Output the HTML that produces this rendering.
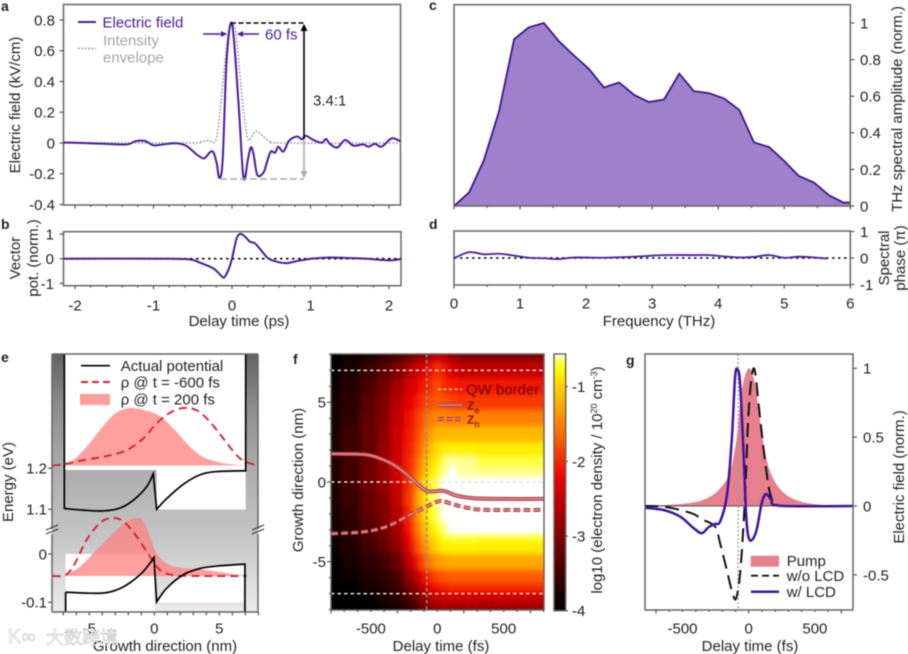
<!DOCTYPE html>
<html lang="en">
<head>
<meta charset="utf-8">
<title>THz pulse and quantum well electron density figure</title>
<style>
html,body{margin:0;padding:0;background:#fff;width:908px;height:654px;overflow:hidden}
svg{display:block;filter:blur(0.45px)}
text{font-family:"Liberation Sans","Noto Sans CJK SC",sans-serif;font-size:15px;fill:#222}
.pl{font-weight:700;font-size:14px}
.fr{fill:none;stroke:#666;stroke-width:1.5}
</style>
</head>
<body>
<svg id="fig" xmlns="http://www.w3.org/2000/svg" width="908" height="654" viewBox="0 0 908 654">
<defs>
<clipPath id="clipF"><rect x="331" y="354" width="213" height="256"/></clipPath>
<clipPath id="clipE"><rect x="52" y="354" width="206" height="258"/></clipPath>
<clipPath id="clipG"><rect x="645" y="354" width="208" height="256"/></clipPath>
<filter id="soft" x="-10%" y="-10%" width="120%" height="120%"><feGaussianBlur stdDeviation="2.6"/></filter>
<linearGradient id="eGrad" x1="0" y1="0" x2="0" y2="1">
<stop offset="0" stop-color="#626262"/><stop offset="0.2" stop-color="#8c8c8c"/><stop offset="0.45" stop-color="#adadad"/><stop offset="0.7" stop-color="#c4c4c4"/><stop offset="1" stop-color="#ececec"/>
</linearGradient>
<marker id="ah-black" markerUnits="userSpaceOnUse" markerWidth="8" markerHeight="7" refX="6" refY="3.5" orient="auto"><path d="M0,0 L7,3.5 L0,7 z" fill="#000"/></marker>
<marker id="ah-gray" markerUnits="userSpaceOnUse" markerWidth="8" markerHeight="7" refX="6" refY="3.5" orient="auto"><path d="M0,0 L7,3.5 L0,7 z" fill="#aaa"/></marker>
<marker id="ah-purple" markerUnits="userSpaceOnUse" markerWidth="7" markerHeight="6" refX="5" refY="3" orient="auto"><path d="M0,0 L6,3 L0,6 z" fill="#4b1a9e"/></marker>
</defs>

<text class="pl" x="1" y="11">a</text>
<text class="pl" x="1" y="229">b</text>
<text class="pl" x="429" y="10">c</text>
<text class="pl" x="429" y="229">d</text>
<text class="pl" x="1" y="362">e</text>
<text class="pl" x="293" y="364">f</text>
<text class="pl" x="626" y="365">g</text>

<g id="pa"></g>
<g id="pb"></g>
<g id="pc"></g>
<g id="pd"></g>
<g id="pe"></g>
<g id="pf"></g>
<g id="pg"></g>

<text transform="translate(20,105) rotate(-90)" text-anchor="middle">Electric field (kV/cm)</text>
<text transform="translate(20,258) rotate(-90)" text-anchor="middle">Vector</text>
<text transform="translate(38,258) rotate(-90)" text-anchor="middle">pot. (norm.)</text>
<text x="239" y="326" text-anchor="middle">Delay time (ps)</text>
<text transform="translate(902,109) rotate(-90)" text-anchor="middle">THz spectral amplitude (norm.)</text>
<text transform="translate(889,258) rotate(-90)" text-anchor="middle">Spectral</text>
<text transform="translate(905,258) rotate(-90)" text-anchor="middle">phase (π)</text>
<text x="659" y="326" text-anchor="middle">Frequency (THz)</text>
<text transform="translate(13,482) rotate(-90)" text-anchor="middle">Energy (eV)</text>
<text x="165" y="651" text-anchor="middle">Growth direction (nm)</text>
<text transform="translate(303,480) rotate(-90)" text-anchor="middle">Growth direction (nm)</text>
<text x="441" y="651" text-anchor="middle">Delay time (fs)</text>
<text transform="translate(602,480) rotate(-90)" text-anchor="middle">log10 (electron density / 10<tspan font-size="9" dy="-5">20</tspan><tspan dy="5"> cm</tspan><tspan font-size="9" dy="-5">-3</tspan><tspan dy="5">)</tspan></text>
<text x="750" y="651" text-anchor="middle">Delay time (fs)</text>
<text transform="translate(904,477) rotate(-90)" text-anchor="middle">Electric field (norm.)</text>

<g id="watermark">
<text x="8" y="643" style="font-size:20px;fill:#fff;stroke:#bbb;stroke-width:.5">K∞</text>
<text x="46" y="644" style="font-size:18px;fill:#fff;stroke:#aaa;stroke-width:.4">大数跨境</text>
</g>
</svg>

<script>
// ---- panel a ----
const fieldTimes=[-2.15,-2,-1.68,-1.34,-1.235,-1.108,-1,-0.875,-0.705,-0.577,-0.45,-0.357,-0.28,-0.238,-0.195,-0.161,-0.119,-0.068,0,0.08,0.136,0.166,0.195,0.238,0.272,0.323,0.4,0.442,0.493,0.548,0.59,0.654,0.718,0.78,0.845,0.887,0.943,1.036,1.142,1.197,1.248,1.342,1.44,1.546,1.673,1.737,1.822,1.907,2.034,2.149];
const fieldValues=[0.002,0.002,-0.004,-0.009,0.011,0.013,-0.015,-0.009,-0.002,-0.02,-0.074,-0.1,-0.06,-0.06,-0.13,-0.226,-0.11,0.54,0.775,0.28,-0.176,-0.23,-0.13,-0.03,-0.067,-0.208,-0.193,-0.13,-0.056,-0.063,-0.024,-0.056,0.009,0.035,0.041,0.024,0.046,0.02,0.002,0.026,-0.006,-0.03,0.02,-0.017,-0.009,-0.024,-0.006,-0.024,0.03,0.009];
const envelopeTimes=[-2.15,-0.577,-0.408,-0.302,-0.217,-0.174,-0.11,-0.047,0,0.051,0.11,0.166,0.208,0.25,0.306,0.378,0.484,0.654,2.149];
const envelopeValues=[0.002,0,0.007,0.017,0.009,0.106,0.43,0.713,0.768,0.713,0.39,0.128,0.02,0.041,0.078,0.052,0.009,0,0];
const fieldYTicks=[-0.4,-0.2,0,0.2,0.4,0.6,0.8];
const fieldYLabels=['-0.4','-0.2','0','0.2','0.4','0.6','0.8'];
// ---- panel b ----
const vectorTimes=[-2.15,-0.83,-0.535,-0.408,-0.238,-0.153,-0.102,-0.047,0,0.059,0.11,0.166,0.229,0.293,0.378,0.463,0.569,0.696,0.866,1.036,1.248,1.46,1.716,2.013,2.16];
const vectorValues=[0,0,-0.03,-0.16,-0.39,-0.64,-0.76,-0.46,0.01,0.82,1,0.89,0.69,0.62,0.31,0.01,-0.12,-0.18,-0.07,0.01,0.05,0.03,0,-0.07,0];
const delayTicks=[-2,-1,0,1,2];
const delayLabels=['-2','-1','0','1','2'];
const vectorYTicks=[-1,0,1];
const vectorYLabels=['-1','0','1'];
// ---- panel c ----
const specFreq=[0,0.23,0.45,0.68,0.91,1.13,1.36,1.59,1.82,2.04,2.27,2.5,2.73,2.95,3.18,3.41,3.63,3.86,4.09,4.32,4.54,4.77,5,5.22,5.45,5.68,5.9,6];
const specAmp=[0,0.075,0.248,0.515,0.911,0.976,1,0.9,0.821,0.75,0.648,0.675,0.606,0.568,0.582,0.723,0.628,0.617,0.587,0.525,0.348,0.322,0.246,0.164,0.128,0.058,0.018,0.02];
const specYTicks=[0,0.2,0.4,0.6,0.8,1];
const specYLabels=['0','0.2','0.4','0.6','0.8','1'];
// ---- panel d ----
const phaseFreq=[0,0.23,0.45,0.68,0.91,1.13,1.36,1.59,1.82,2.27,2.73,3.18,3.63,3.86,4.09,4.32,4.54,4.77,5,5.22,5.45,5.65];
const phaseValues=[-0.01,0.22,0.14,0.16,0.09,0.01,-0.01,-0.04,0.02,0.01,0.05,0.11,0.11,0.11,0.06,0.02,0.04,0.11,0.01,0.05,0.02,-0.02];
const freqTicks=[0,1,2,3,4,5,6];
const freqLabels=['0','1','2','3','4','5','6'];
// ---- panel e ----
const cbZ=[-6.92,-6.92,-5.46,-3.92,-2.64,-1.62,-0.59,-0.08,0.18,0.95,2.23,3.51,4.8,7.03,7.03];
const cbE=[1.479,1.102,1.098,1.096,1.103,1.122,1.155,1.187,1.1,1.126,1.161,1.184,1.192,1.194,1.479];
const vbZ=[-6.82,-6.82,-5.2,-3.67,-2.38,-1.1,-0.33,-0.03,0.18,0.95,2.23,3.51,4.8,6.97,6.97];
const vbE=[-0.119,-0.079,-0.081,-0.08,-0.068,-0.043,-0.019,-0.007,-0.099,-0.071,-0.043,-0.03,-0.025,-0.021,-0.119];
const rhoLateUpperZ=[-6.92,-6.23,-5.2,-4.18,-3.15,-2.38,-1.62,-0.59,0.44,1.46,2.49,3.51,4.54,5.82,7.03];
const rhoLateUpper=[0,0.093,0.326,0.616,0.878,0.977,1,0.953,0.86,0.645,0.384,0.18,0.081,0.023,0];
const rhoEarlyUpperZ=[-7.82,-6.92,-5.46,-3.67,-2.13,-0.85,0.18,1.21,2.23,3.26,4.28,5.31,6.33,7.03,7.95];
const rhoEarlyUpper=[0,0.023,0.093,0.163,0.267,0.47,0.733,0.919,1,0.96,0.76,0.47,0.18,0.064,0];
const rhoLateLowerZ=[-6.82,-5.72,-4.69,-3.41,-2.13,-1.36,-0.85,-0.33,0.18,0.95,1.97,3.51,4.8,7.03];
const rhoLateLower=[0.01,0.162,0.393,0.682,0.942,1,0.942,0.682,0.393,0.22,0.145,0.116,0.075,0];
const rhoEarlyLowerZ=[-7.82,-6.82,-6.1,-5.2,-4.18,-3.28,-2.38,-1.36,-0.33,0.44,1.46,3.51,7.1];
const rhoEarlyLower=[0,0.017,0.22,0.624,0.913,1,0.942,0.682,0.335,0.104,0.017,0,0];
const growthTicks=[-5,0,5];
const growthLabels=['-5','0','5'];
const energyUpperTicks=[1.2,1.1];
const energyUpperLabels=['1.2','1.1'];
const energyLowerTicks=[0,-0.1];
const energyLowerLabels=['0','-0.1'];
// ---- panel f ----
const heatTimes=[-800,-650,-500,-400,-300,-200,-150,-100,-50,0,50,100,200,400,800];
const heatDepths=[8,7,6,5,4,3,2,1.2,0.6,0,-1,-2,-3,-3.5,-4,-5,-6,-6.6,-7,-7.5,-8];
const heatValues=[
[-4,-3.9,-3.8,-3.6,-3.4,-3.1,-2.95,-2.8,-2.65,-2.45,-2.6,-2.8,-2.95,-2.95,-2.95],
[-3.95,-3.8,-3.55,-3.3,-3,-2.65,-2.45,-2.3,-2.15,-1.95,-2.1,-2.35,-2.5,-2.5,-2.5],
[-3.9,-3.7,-3.4,-3.1,-2.75,-2.4,-2.2,-2.05,-1.95,-1.8,-1.95,-2.05,-2.1,-2.1,-2.1],
[-3.85,-3.65,-3.3,-3,-2.6,-2.25,-2.05,-1.9,-1.8,-1.7,-1.75,-1.85,-1.9,-1.9,-1.9],
[-3.85,-3.6,-3.25,-2.95,-2.5,-2.15,-1.9,-1.7,-1.55,-1.45,-1.45,-1.5,-1.5,-1.5,-1.5],
[-3.8,-3.55,-3.2,-2.9,-2.45,-2.1,-1.85,-1.55,-1.3,-1.15,-1.15,-1.15,-1.15,-1.15,-1.15],
[-3.8,-3.5,-3.2,-2.85,-2.45,-2.05,-1.75,-1.4,-1.1,-0.92,-0.85,-0.82,-0.82,-0.85,-0.85],
[-3.75,-3.5,-3.15,-2.85,-2.4,-2,-1.65,-1.25,-0.95,-0.82,-0.65,-0.56,-0.6,-0.68,-0.68],
[-3.75,-3.5,-3.15,-2.85,-2.4,-2,-1.55,-1.15,-0.85,-0.75,-0.6,-0.5,-0.58,-0.6,-0.6],
[-3.75,-3.5,-3.15,-2.85,-2.45,-1.95,-1.45,-1.05,-0.8,-0.65,-0.52,-0.4,-0.4,-0.4,-0.4],
[-3.8,-3.55,-3.2,-2.95,-2.5,-1.9,-1.35,-0.95,-0.7,-0.6,-0.45,-0.4,-0.4,-0.4,-0.4],
[-3.85,-3.6,-3.25,-3,-2.6,-2,-1.4,-1,-0.75,-0.65,-0.5,-0.4,-0.4,-0.4,-0.4],
[-3.85,-3.65,-3.35,-3.1,-2.7,-2.1,-1.55,-1.15,-0.88,-0.72,-0.62,-0.52,-0.45,-0.5,-0.5],
[-3.9,-3.7,-3.45,-3.2,-2.8,-2.2,-1.7,-1.3,-1,-0.85,-0.75,-0.7,-0.7,-0.72,-0.72],
[-3.9,-3.75,-3.5,-3.25,-2.9,-2.3,-1.8,-1.45,-1.15,-0.95,-0.85,-0.82,-0.82,-0.85,-0.85],
[-3.95,-3.85,-3.65,-3.5,-3.2,-2.55,-2.1,-1.75,-1.5,-1.32,-1.3,-1.25,-1.25,-1.25,-1.25],
[-4,-3.9,-3.8,-3.65,-3.4,-2.9,-2.5,-2.15,-1.95,-1.8,-1.75,-1.7,-1.7,-1.7,-1.7],
[-4,-3.95,-3.85,-3.75,-3.55,-3.1,-2.8,-2.45,-2.25,-2.1,-2,-1.95,-1.95,-1.95,-1.95],
[-4,-3.95,-3.9,-3.8,-3.65,-3.3,-3,-2.7,-2.5,-2.35,-2.35,-2.3,-2.3,-2.3,-2.3],
[-4,-4,-3.95,-3.85,-3.75,-3.5,-3.25,-2.95,-2.75,-2.6,-2.6,-2.6,-2.6,-2.6,-2.6],
[-4,-4,-3.95,-3.9,-3.8,-3.65,-3.45,-3.2,-3,-2.9,-2.85,-2.85,-2.85,-2.85,-2.85]
];
const electronTimes=[-801,-558,-432,-306,-181,-80,45,146,271,472,804];
const electronCentroid=[1.77,1.73,1.48,0.96,0.125,-0.56,-0.56,-0.86,-1.02,-1.06,-1.06];
const holeTimes=[-800,-558,-382,-231,-80,20,95,221,372,804];
const holeCentroid=[-3.24,-3.13,-2.8,-2.17,-1.54,-1.19,-1.34,-1.61,-1.75,-1.75];
const qwBorders=[7,0,-7];
const pumpDelayMark=[-80];
const densityTicks=[-1,-2,-3,-4];
const densityLabels=['-1','-2','-3','-4'];
const fYTicks=[5,0,-5];
const fYLabels=['5','0','-5'];
const delayFsTicks=[-500,0,500];
const delayFsLabels=['-500','0','500'];
// ---- panel g ----
const withLcdTimes=[-789,-643,-518,-417,-354,-304,-254,-216,-166,-128,-103,-83,-65,-40,-20,-3,23,60,98,131,173,236,789];
const withLcdValues=[-0.012,-0.029,-0.077,-0.16,-0.198,-0.154,-0.13,-0.113,0.067,0.477,0.935,0.99,0.887,0.405,-0.053,-0.22,-0.248,-0.173,0.019,0.087,0.043,0.002,0];
const noLcdTimes=[-789,-643,-518,-417,-342,-254,-216,-166,-116,-90,-60,-28,-3,23,48,85,136,173,236,789];
const noLcdValues=[0,-0.005,-0.029,-0.058,-0.101,-0.149,-0.27,-0.463,-0.655,-0.655,-0.438,0.067,0.646,0.94,0.975,0.646,0.236,0.055,0.002,0];
const pumpTimes=[-789,-467,-317,-216,-141,-90,-53,0,48,85,136,198,286,412,588,789];
const pumpValues=[0,0.019,0.055,0.128,0.248,0.501,0.839,1,0.887,0.622,0.333,0.176,0.08,0.027,0.005,0];
const gYTicks=[1,0.5,0,-0.5];
const gYLabels=['1','0.5','0','-0.5'];

const NS='http://www.w3.org/2000/svg';
const PURPLE='#4b1a9e';
function lin(d0,r0,d1,r1){return v=>r0+(v-d0)*(r1-r0)/(d1-d0);}
function mk(tag,attrs,parent,name){
  const el=document.createElementNS(NS,tag);
  for(const k in attrs){el.setAttribute(k,attrs[k]);}
  
  
  parent.appendChild(el);
  return el;
}
function label(parent,x,y,str,anchor,name,extra){
  const t=mk('text',Object.assign({x:x,y:y,dy:'.36em','text-anchor':anchor},extra||{}),parent,name);
  t.textContent=str;
  return t;
}
function toPts(xs,ys,fx,fy){return xs.map((v,i)=>[fx(v),fy(ys[i])]);}
function poly(pts){return 'M'+pts.map(p=>p[0].toFixed(2)+','+p[1].toFixed(2)).join(' L');}
function smooth(pts){
  let d='M'+pts[0][0].toFixed(2)+','+pts[0][1].toFixed(2);
  for(let i=0;i<pts.length-1;i++){
    const p0=pts[Math.max(i-1,0)],p1=pts[i],p2=pts[i+1],p3=pts[Math.min(i+2,pts.length-1)];
    const c1=[p1[0]+(p2[0]-p0[0])/6,p1[1]+(p2[1]-p0[1])/6];
    const c2=[p2[0]-(p3[0]-p1[0])/6,p2[1]-(p3[1]-p1[1])/6];
    d+=' C'+c1[0].toFixed(2)+','+c1[1].toFixed(2)+' '+c2[0].toFixed(2)+','+c2[1].toFixed(2)+' '+p2[0].toFixed(2)+','+p2[1].toFixed(2);
  }
  return d;
}
function frame(parent,x,y,w,h,name){return mk('rect',{x:x,y:y,width:w,height:h,class:'fr'},parent,name);}
function line(parent,x1,y1,x2,y2,style,name){
  return mk('line',Object.assign({x1:x1,y1:y1,x2:x2,y2:y2,stroke:'#555','stroke-width':1.2},style||{}),parent,name);
}
function xTicks(parent,fx,yBase,from,to,majorStep,minorStep,prefix){
  const n=Math.round((to-from)/minorStep);
  const every=Math.round(majorStep/minorStep);
  for(let i=0;i<=n;i++){
    const major=i%every===0;
    const px=fx(from+i*minorStep);
    line(parent,px,yBase,px,yBase+(major?3.5:2),null,prefix+(major?'-x-tick-major':'-x-tick-minor'));
  }
}
function yTicksLeft(parent,fy,xBase,vals,labels,xLab,name){
  vals.forEach((v,i)=>{
    line(parent,xBase-4,fy(v),xBase,fy(v),null,name+'-y-tick');
    label(parent,xLab,fy(v),labels[i],'end',name+'-y-tick-label');
  });
}
function yTicksRight(parent,fy,xBase,vals,labels,xLab,name){
  vals.forEach((v,i)=>{
    line(parent,xBase,fy(v),xBase+4,fy(v),null,name+'-y-tick');
    label(parent,xLab,fy(v),labels[i],'start',name+'-y-tick-label');
  });
}

// ===== PANEL A =====
const xA=lin(0,232,1,310.5), yA=lin(0,143,0.8,20);
const pa=document.getElementById('pa');
frame(pa,63.5,4.5,337,200.5,'panel-a-frame');
mk('path',{d:smooth(toPts(envelopeTimes,envelopeValues,xA,yA)),fill:'none',stroke:'#a0a0a0','stroke-width':1.7,'stroke-dasharray':'1.7 1.7'},pa,'intensity-envelope-line');
mk('path',{d:smooth(toPts(fieldTimes,fieldValues,xA,yA)),fill:'none',stroke:PURPLE,'stroke-width':2},pa,'electric-field-line');
xTicks(pa,xA,205,-2,2,1,0.2,'panel-a');
yTicksLeft(pa,yA,63.5,fieldYTicks,fieldYLabels,55,'panel-a');
line(pa,231,23,304,23,{stroke:'#000','stroke-width':1.6,'stroke-dasharray':'5 2.5'},'peak-level-dashed');
line(pa,220,179,304,179,{stroke:'#aaa','stroke-width':1.6,'stroke-dasharray':'7 3'},'trough-level-dashed');
line(pa,304,139,304,25,{stroke:'#000','stroke-width':1.6,'marker-end':'url(#ah-black)'},'positive-peak-arrow');
line(pa,304,139,304,177,{stroke:'#aaa','stroke-width':1.6,'marker-end':'url(#ah-gray)'},'negative-peak-arrow');
line(pa,203,34,226,34,{stroke:PURPLE,'stroke-width':1.5,'marker-end':'url(#ah-purple)'},'fwhm-arrow-left');
line(pa,259,34,238,34,{stroke:PURPLE,'stroke-width':1.5,'marker-end':'url(#ah-purple)'},'fwhm-arrow-right');
label(pa,265,34,'60 fs','start','fwhm-label',{style:'fill:'+PURPLE});
label(pa,313,100,'3.4:1','start','ratio-label');
line(pa,78,22,96,22,{stroke:PURPLE,'stroke-width':2},'legend-electric-field-line');
label(pa,102.5,22,'Electric field','start','legend-electric-field-label',{style:'fill:'+PURPLE});
line(pa,78,48.5,96,48.5,{stroke:'#a0a0a0','stroke-width':1.7,'stroke-dasharray':'1.7 1.7'},'legend-envelope-line');
label(pa,103,40,'Intensity','start','legend-envelope-label-1',{style:'fill:#a5a5a5'});
label(pa,103,57,'envelope','start','legend-envelope-label-2',{style:'fill:#a5a5a5'});

// ===== PANEL B =====
const yB=lin(0,258.7,1,234);
const pb=document.getElementById('pb');
frame(pb,63.5,231.7,337.5,54,'panel-b-frame');
line(pb,64,258.7,401,258.7,{stroke:'#000','stroke-width':1.6,'stroke-dasharray':'2.5 3.5'},'panel-b-zero-line');
mk('path',{d:smooth(toPts(vectorTimes,vectorValues,xA,yB)),fill:'none',stroke:PURPLE,'stroke-width':2},pb,'vector-potential-line');
xTicks(pb,xA,285.7,-2,2,1,0.2,'panel-b');
delayTicks.forEach((v,i)=>{label(pb,xA(v),305,delayLabels[i],'middle','panel-b-x-tick-label');});
yTicksLeft(pb,yB,63.5,vectorYTicks,vectorYLabels,54,'panel-b');

// ===== PANEL C =====
const xC=lin(0,454,6,850.3), yC=lin(0,206,1,23);
const pc=document.getElementById('pc');
const specPts=toPts(specFreq,specAmp,xC,yC);
mk('path',{d:poly(specPts)+' L'+xC(6)+','+yC(0)+' L'+xC(0)+','+yC(0)+' Z',fill:'#9f80ca'},pc,'spectrum-area');
mk('path',{d:poly(specPts),fill:'none',stroke:'#3a1690','stroke-width':1.8},pc,'spectrum-line');
frame(pc,454,4.7,396.3,201.3,'panel-c-frame');
xTicks(pc,xC,206,0,6,1,0.5,'panel-c');
yTicksRight(pc,yC,850.3,specYTicks,specYLabels,860,'panel-c');

// ===== PANEL D =====
const yD=lin(0,258,1,231.5);
const pd=document.getElementById('pd');
frame(pd,454,231,396.3,54,'panel-d-frame');
line(pd,454,258,850,258,{stroke:'#000','stroke-width':1.6,'stroke-dasharray':'2.5 3.5'},'panel-d-zero-line');
mk('path',{d:smooth(toPts(phaseFreq,phaseValues,xC,yD)),fill:'none',stroke:PURPLE,'stroke-width':1.8},pd,'spectral-phase-line');
xTicks(pd,xC,285,0,6,1,0.5,'panel-d');
freqTicks.forEach((v,i)=>{label(pd,xC(v),303,freqLabels[i],'middle','panel-d-x-tick-label');});
yTicksRight(pd,yD,850.3,vectorYTicks.slice().reverse(),vectorYLabels.slice().reverse(),860,'panel-d');

// ===== PANEL E =====
const xE=lin(0,154.3,5,219.3);
const yEu=lin(1.2,468.3,1.1,509.3), yEl=lin(0,554,-0.1,602.3);
const rU=lin(0,465.5,1,408), rL=lin(0,576,1,518);
const pe=document.getElementById('pe');
const peC=mk('g',{'clip-path':'url(#clipE)'},pe,'panel-e-plot-area');
mk('rect',{x:52,y:354,width:206,height:258,fill:'url(#eGrad)'},peC,'gradient-background');
mk('rect',{x:xE(-6.92),y:354,width:xE(7.03)-xE(-6.92),height:116,fill:'#fff'},peC,'upper-white-band');
mk('rect',{x:xE(0.18),y:470,width:xE(7.03)-xE(0.18),height:39.6,fill:'#fff'},peC,'upper-right-white-region');
mk('rect',{x:xE(-6.82),y:554,width:xE(0)-xE(-6.82),height:58,fill:'#fff'},peC,'lower-left-white-region');
const whitePts=[];
for(let i=8;i<14;i++){whitePts.push([xE(vbZ[i]),yEl(vbE[i])]);}
mk('path',{d:smooth(whitePts)+' L'+xE(6.97)+','+yEl(-0.1)+' L'+xE(0.18)+','+yEl(-0.1)+' Z',fill:'#fff'},peC,'lower-right-white-region');
function areaE(zs,rs,fr,name){
  const pts=toPts(zs,rs,xE,fr);
  mk('path',{d:smooth(pts)+' L'+pts[pts.length-1][0]+','+fr(0)+' L'+pts[0][0]+','+fr(0)+' Z',fill:'#ff8080','fill-opacity':0.75},peC,name);
}
areaE(rhoLateUpperZ,rhoLateUpper,rU,'density-200fs-upper-area');
areaE(rhoLateLowerZ,rhoLateLower,rL,'density-200fs-lower-area');
const dashRed={fill:'none',stroke:'#d9232e','stroke-width':1.9,'stroke-dasharray':'8 5'};
mk('path',Object.assign({d:smooth(toPts(rhoEarlyUpperZ,rhoEarlyUpper,xE,rU))},dashRed),peC,'density-minus600fs-upper-line');
mk('path',Object.assign({d:smooth(toPts(rhoEarlyLowerZ,rhoEarlyLower,xE,rL))},dashRed),peC,'density-minus600fs-lower-line');
const cbPts=toPts(cbZ,cbE,xE,yEu);
mk('path',{d:'M'+cbPts[0]+' L'+cbPts[1]+' '+smooth(cbPts.slice(1,8)).replace('M','L')+' L'+cbPts[8]+' '+smooth(cbPts.slice(8,14)).replace('M','L')+' L'+cbPts[14],fill:'none',stroke:'#000','stroke-width':1.7},peC,'conduction-band-potential');
const vbPts=toPts(vbZ,vbE,xE,yEl);
mk('path',{d:'M'+vbPts[0]+' L'+vbPts[1]+' '+smooth(vbPts.slice(1,8)).replace('M','L')+' L'+vbPts[8]+' '+smooth(vbPts.slice(8,14)).replace('M','L')+' L'+vbPts[14],fill:'none',stroke:'#000','stroke-width':1.7},peC,'valence-band-potential');
line(pe,52,354,258,354,{stroke:'#666','stroke-width':1.5},'panel-e-top-spine');
line(pe,52,612,258,612,{stroke:'#666','stroke-width':1.5},'panel-e-bottom-spine');
line(pe,52,354,52,529,{stroke:'#666','stroke-width':1.5},'panel-e-left-spine-upper');
line(pe,52,534,52,612,{stroke:'#666','stroke-width':1.5},'panel-e-left-spine-lower');
line(pe,258,354,258,529,{stroke:'#666','stroke-width':1.5},'panel-e-right-spine-upper');
line(pe,258,534,258,612,{stroke:'#666','stroke-width':1.5},'panel-e-right-spine-lower');
[[46,530,58,525],[46,534,58,529],[252,530,264,525],[252,534,264,529]].forEach(function(b){
  line(pe,b[0],b[1],b[2],b[3],{stroke:'#333','stroke-width':1.1},'axis-break-mark');
});
xTicks(pe,xE,612,-7,8,1,1,'panel-e');
growthTicks.forEach((v,i)=>{label(pe,xE(v),628,growthLabels[i],'middle','panel-e-x-tick-label');});
yTicksLeft(pe,yEu,52,energyUpperTicks,energyUpperLabels,47,'panel-e-upper');
yTicksLeft(pe,yEl,52,energyLowerTicks,energyLowerLabels,47,'panel-e-lower');
line(pe,81,365.7,110,365.7,{stroke:'#000','stroke-width':1.7},'legend-actual-potential-line');
label(pe,120.7,365.5,'Actual potential','start','legend-actual-potential-label');
line(pe,81,382,110,382,{stroke:'#d9232e','stroke-width':1.9,'stroke-dasharray':'7 4'},'legend-rho-minus600-line');
label(pe,120.7,382,'ρ @ t = -600 fs','start','legend-rho-minus600-label');
mk('rect',{x:80,y:394,width:30,height:11,fill:'#ff9c9c'},pe,'legend-rho-200-swatch');
label(pe,120.7,399,'ρ @ t = 200 fs','start','legend-rho-200-label');

// ===== PANEL F =====
const xF=lin(0,437.3,500,503.7), yF=lin(0,482,5,402.3);
const cmapV=[-4,-3,-2.2,-1.6,-1,-0.75,-0.56];
const cmapR=[0,128,240,255,255,255,255];
const cmapG=[0,0,0,112,208,255,255];
const cmapB=[0,0,0,0,0,0,176];
function heatColor(v){
  if(v>-0.55){return '#ffffff';}
  let i=0;
  while(i<cmapV.length-2&&v>cmapV[i+1]){i++;}
  const f=Math.max(0,Math.min(1,(v-cmapV[i])/(cmapV[i+1]-cmapV[i])));
  const c=a=>Math.round(a[i]+(a[i+1]-a[i])*f);
  return 'rgb('+c(cmapR)+','+c(cmapG)+','+c(cmapB)+')';
}
function edges(c,sc,pad){
  const px=c.map(sc), e=[];
  for(let i=0;i<px.length-1;i++){e.push((px[i]+px[i+1])/2);}
  const lo=px[0]<px[px.length-1];
  return [px[0]+(lo?-pad:pad)].concat(e,[px[px.length-1]+(lo?pad:-pad)]);
}
const pf=document.getElementById('pf');
const pfC=mk('g',{'clip-path':'url(#clipF)'},pf,'density-map-clip');
const pfH=mk('g',{filter:'url(#soft)'},pfC,'density-map');
mk('rect',{x:320,y:340,width:240,height:290,fill:'#000'},pfH,'density-map-base');
const tE=edges(heatTimes,xF,14), zE=edges(heatDepths,yF,14);
heatValues.forEach((row,r)=>{
  row.forEach((v,c)=>{
    mk('rect',{x:tE[c],y:zE[r],width:tE[c+1]-tE[c]+0.6,height:zE[r+1]-zE[r]+0.6,fill:heatColor(v)},pfH,'heatmap-cell');
  });
});
qwBorders.forEach(function(z){
  line(pfC,331,yF(z),544,yF(z),{stroke:'#e4e4e4','stroke-width':1.5,'stroke-dasharray':'3.5 3'},'qw-border-line');
});
pumpDelayMark.forEach(function(t){
  line(pfC,xF(t),354,xF(t),610,{stroke:'#909090','stroke-width':1.5,'stroke-dasharray':'3.5 2.5'},'pump-delay-line');
});
const ePath=smooth(toPts(electronTimes,electronCentroid,xF,yF));
const hPath=smooth(toPts(holeTimes,holeCentroid,xF,yF));
mk('path',{d:ePath,fill:'none',stroke:'#a8474c','stroke-width':4},pfC,'electron-centroid-outline');
mk('path',{d:ePath,fill:'none',stroke:'#ee8a8e','stroke-width':1.5},pfC,'electron-centroid-line');
mk('path',{d:hPath,fill:'none',stroke:'#a8474c','stroke-width':4,'stroke-dasharray':'7 3'},pfC,'hole-centroid-outline');
mk('path',{d:hPath,fill:'none',stroke:'#ee8a8e','stroke-width':1.5,'stroke-dasharray':'7 3'},pfC,'hole-centroid-line');
frame(pf,331,354,213,256,'panel-f-frame');
xTicks(pf,xF,610,-800,800,500,100,'panel-f');
delayFsTicks.forEach((v,i)=>{label(pf,xF(v),628,delayFsLabels[i],'middle','panel-f-x-tick-label');});
for(let z=-8;z<=8;z++){
  line(pf,z%5===0?327:329,yF(z),331,yF(z),null,'panel-f-y-tick');
}
fYTicks.forEach((v,i)=>{label(pf,326,yF(v),fYLabels[i],'end','panel-f-y-tick-label');});
line(pf,438,389.3,462,389.3,{stroke:'#f2e6c0','stroke-width':1.5,'stroke-dasharray':'3 2.5'},'legend-qw-border-line');
label(pf,466,389.3,'QW border','start','legend-qw-border-label',{style:'fill:#6a0505'});
line(pf,438,405,462,405,{stroke:'#a8474c','stroke-width':4},'legend-ze-line-outline');
line(pf,438,405,462,405,{stroke:'#ee8a8e','stroke-width':1.3},'legend-ze-line');
const zeT=label(pf,467,404,'z','start','legend-ze-label',{style:'fill:#6a0505'});
const zeS=mk('tspan',{dy:4,'font-size':9},zeT,'legend-ze-subscript');
zeS.textContent='e';
line(pf,438,419,462,419,{stroke:'#a8474c','stroke-width':4,'stroke-dasharray':'6 2.5'},'legend-zh-line-outline');
line(pf,438,419,462,419,{stroke:'#ee8a8e','stroke-width':1.3,'stroke-dasharray':'6 2.5'},'legend-zh-line');
const zhT=label(pf,467,418,'z','start','legend-zh-label',{style:'fill:#6a0505'});
const zhS=mk('tspan',{dy:4,'font-size':9},zhT,'legend-zh-subscript');
zhS.textContent='h';
// colorbar
const yBar=lin(-1,386.7,-4,610.7);
const cbar=mk('g',{},pf,'colorbar');
for(let py=354;py<610.7;py+=1){
  const val=-1+(py-386.7)*(-3)/(610.7-386.7);
  mk('rect',{x:554,y:py,width:11.7,height:1.3,fill:heatColor(Math.min(val,-0.56))},cbar,'colorbar-step');
}
mk('rect',{x:554,y:354,width:11.7,height:2.5,fill:'#fff'},cbar,'colorbar-top-cap');
frame(cbar,554,354,11.7,256.7,'colorbar-frame');
densityTicks.forEach((v,i)=>{
  line(cbar,565.7,yBar(v),568,yBar(v),null,'colorbar-tick');
  label(cbar,572,yBar(v),densityLabels[i],'start','colorbar-tick-label');
});

// ===== PANEL G =====
const xG=lin(0,748.7,500,814.9), yG=lin(0,506,1,368.3);
const pg=document.getElementById('pg');
const pgC=mk('g',{'clip-path':'url(#clipG)'},pg,'panel-g-plot-area');
const pumpPts=toPts(pumpTimes,pumpValues,xG,yG);
mk('path',{d:smooth(pumpPts)+' Z',fill:'#e5808c'},pgC,'pump-area');
line(pgC,645,yG(0),853,yG(0),{stroke:'#555','stroke-width':1},'panel-g-zero-line');
pumpDelayMark.forEach(function(t){
  line(pgC,xG(t),354,xG(t),610,{stroke:'#999','stroke-width':1.3,'stroke-dasharray':'2 2'},'panel-g-pump-delay-line');
});
mk('path',{d:smooth(toPts(noLcdTimes,noLcdValues,xG,yG)),fill:'none',stroke:'#111','stroke-width':2,'stroke-dasharray':'14 7'},pgC,'without-lcd-line');
mk('path',{d:smooth(toPts(withLcdTimes,withLcdValues,xG,yG)),fill:'none',stroke:'#3f14a0','stroke-width':2.5},pgC,'with-lcd-line');
frame(pg,645,354,208,256,'panel-g-frame');
xTicks(pg,xG,610,-700,700,700,100,'panel-g');
delayFsTicks.forEach((v,i)=>{label(pg,xG(v),628,delayFsLabels[i],'middle','panel-g-x-tick-label');});
yTicksRight(pg,yG,853,gYTicks,gYLabels,863,'panel-g');
mk('rect',{x:750.7,y:555.7,width:28.3,height:11,fill:'#e5808c'},pg,'legend-pump-swatch');
label(pg,786.7,560.5,'Pump','start','legend-pump-label');
line(pg,751,575.7,779,575.7,{stroke:'#111','stroke-width':1.9,'stroke-dasharray':'7 4'},'legend-without-lcd-line');
label(pg,786.7,575.7,'w/o LCD','start','legend-without-lcd-label');
line(pg,751,591.7,779,591.7,{stroke:'#3f14a0','stroke-width':2.5},'legend-with-lcd-line');
label(pg,786.7,591.7,'w/ LCD','start','legend-with-lcd-label');

// keep the watermark on top of panel e's tick labels
const fig=document.getElementById('fig');
fig.appendChild(document.getElementById('watermark'));
</script>
</body>
</html>
